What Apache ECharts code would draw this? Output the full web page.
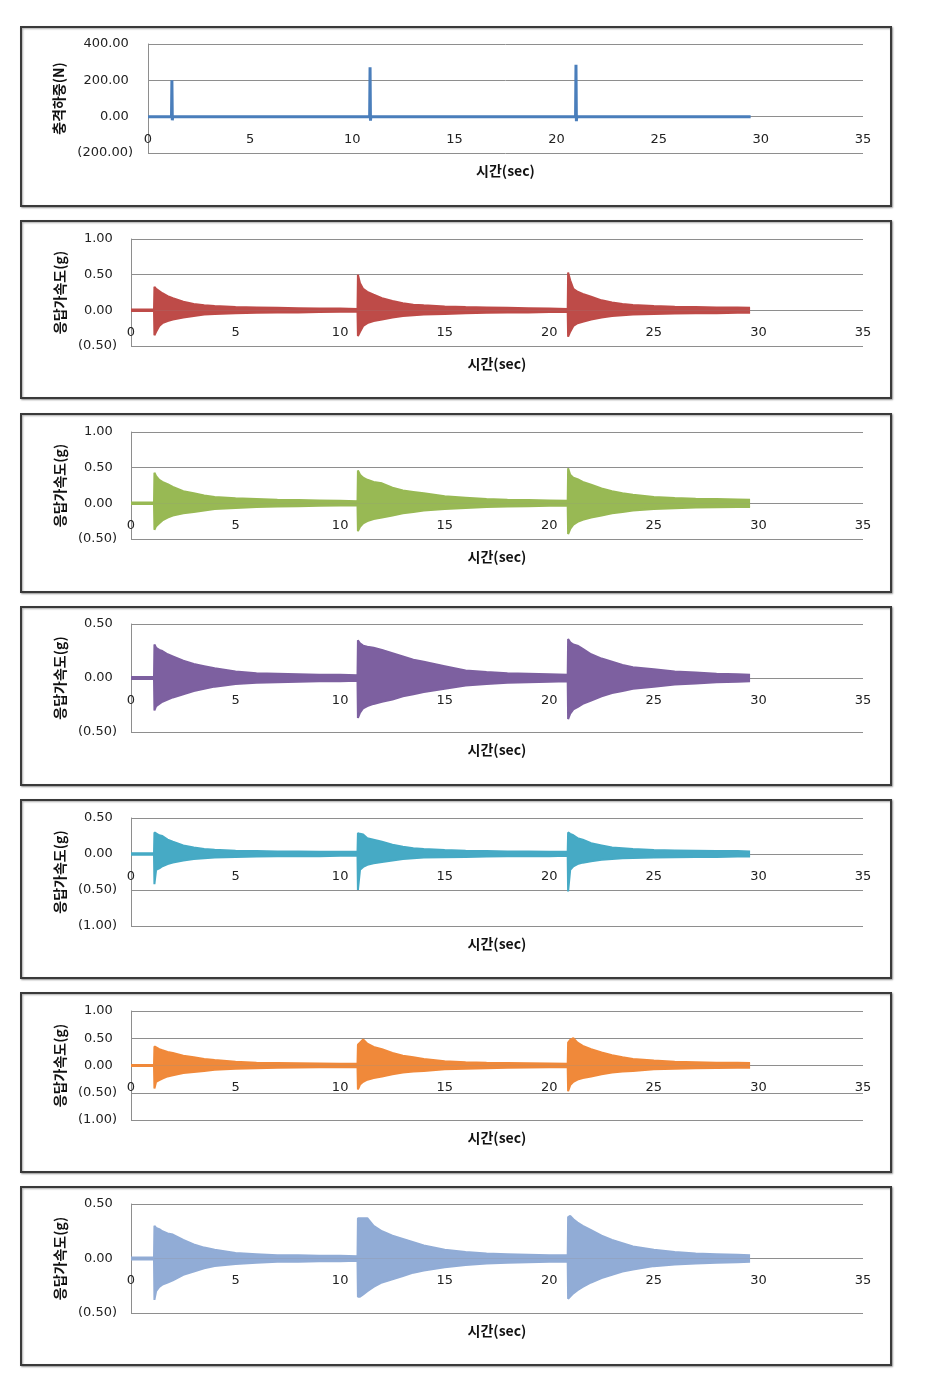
<!DOCTYPE html>
<html><head><meta charset="utf-8">
<script src="https://cdn.jsdelivr.net/npm/echarts@6/dist/echarts.min.js"></script>
<style>html,body{margin:0;padding:0;background:#fff}#c{width:929px;height:1374px}</style>
</head><body><div id="c"></div>
<script>
// ---------- DATA ----------
const xTicks = [0, 5, 10, 15, 20, 25, 30, 35];
const yTitleForce = '충격하중(N)';
const yTitleAcc = '응답가속도(g)';
const xTitle = '시간(sec)';

// impact load (N)
const forceTime  = [0, 1.15, 1.17, 1.19, 1.21, 10.85, 10.87, 10.89, 10.91, 20.93, 20.95, 20.97, 20.99, 29.5];
const forceValue = [0, 0,    200,  -20,  0,    0,     272,   -22,   0,     0,     286,   -25,   0,     0];

// envelope sample times (sec) for the response accelerations
const envTime = [0, 1.1, 1.12, 1.2, 1.35, 1.5, 1.75, 2, 2.5, 3, 3.5, 4, 5, 6, 7, 8, 9, 10,
  10.83, 10.85, 10.95, 11.1, 11.3, 11.6, 12, 12.5, 13, 13.5, 14, 15, 16, 17, 18, 19, 20,
  20.88, 20.9, 21.0, 21.15, 21.35, 21.6, 22, 22.5, 23, 23.5, 24, 25, 26, 27, 28, 29, 29.6];

const redUpper = [0.01,0.01,0.33,0.30,0.27,0.24,0.20,0.17,0.12,0.09,0.07,0.06,0.045,0.04,0.035,0.03,0.025,0.025,
  0.02,0.50,0.38,0.30,0.26,0.22,0.17,0.13,0.10,0.08,0.07,0.055,0.045,0.04,0.035,0.03,0.025,
  0.02,0.53,0.42,0.30,0.26,0.23,0.19,0.14,0.11,0.09,0.075,0.06,0.05,0.045,0.04,0.04,0.035];
const redLower = [-0.01,-0.01,-0.35,-0.30,-0.22,-0.18,-0.15,-0.13,-0.10,-0.08,-0.06,-0.05,-0.04,-0.035,-0.03,-0.03,-0.025,-0.02,
  -0.02,-0.36,-0.30,-0.22,-0.18,-0.15,-0.13,-0.10,-0.08,-0.07,-0.06,-0.05,-0.04,-0.035,-0.03,-0.03,-0.025,
  -0.02,-0.37,-0.30,-0.22,-0.18,-0.16,-0.13,-0.10,-0.08,-0.07,-0.06,-0.05,-0.045,-0.04,-0.04,-0.035,-0.035];

const greenUpper = [0.01,0.01,0.43,0.38,0.33,0.30,0.27,0.23,0.17,0.14,0.11,0.09,0.07,0.06,0.05,0.045,0.04,0.035,
  0.03,0.46,0.40,0.36,0.33,0.30,0.28,0.22,0.18,0.16,0.14,0.10,0.08,0.06,0.05,0.045,0.04,
  0.035,0.49,0.40,0.36,0.34,0.30,0.26,0.21,0.17,0.14,0.12,0.09,0.075,0.065,0.06,0.055,0.05];
const greenLower = [-0.01,-0.01,-0.37,-0.32,-0.28,-0.24,-0.20,-0.17,-0.14,-0.12,-0.10,-0.08,-0.065,-0.05,-0.045,-0.04,-0.035,-0.03,
  -0.03,-0.39,-0.33,-0.28,-0.25,-0.22,-0.20,-0.17,-0.14,-0.12,-0.10,-0.08,-0.065,-0.05,-0.045,-0.04,-0.035,
  -0.03,-0.43,-0.36,-0.30,-0.26,-0.23,-0.20,-0.17,-0.14,-0.12,-0.10,-0.08,-0.07,-0.06,-0.055,-0.05,-0.05];

const purpleUpper = [0.01,0.01,0.31,0.28,0.26,0.25,0.22,0.20,0.16,0.13,0.11,0.09,0.06,0.045,0.04,0.035,0.03,0.03,
  0.025,0.35,0.32,0.30,0.29,0.28,0.26,0.23,0.20,0.17,0.15,0.11,0.07,0.055,0.045,0.04,0.035,
  0.03,0.36,0.33,0.31,0.30,0.27,0.22,0.18,0.15,0.12,0.10,0.08,0.06,0.05,0.04,0.035,0.03];
const purpleLower = [-0.01,-0.01,-0.30,-0.26,-0.24,-0.22,-0.20,-0.18,-0.15,-0.12,-0.10,-0.08,-0.055,-0.045,-0.04,-0.035,-0.03,-0.03,
  -0.025,-0.37,-0.32,-0.28,-0.26,-0.24,-0.22,-0.20,-0.17,-0.15,-0.13,-0.10,-0.07,-0.055,-0.045,-0.04,-0.035,
  -0.03,-0.38,-0.33,-0.29,-0.27,-0.24,-0.21,-0.17,-0.14,-0.12,-0.10,-0.08,-0.06,-0.05,-0.04,-0.035,-0.03];

const aquaUpper = [0.01,0.01,0.30,0.28,0.26,0.25,0.20,0.17,0.12,0.09,0.07,0.06,0.045,0.04,0.035,0.035,0.03,0.03,
  0.03,0.29,0.28,0.27,0.22,0.20,0.17,0.13,0.10,0.08,0.07,0.055,0.045,0.04,0.035,0.035,0.03,
  0.03,0.30,0.28,0.26,0.22,0.20,0.15,0.12,0.09,0.08,0.07,0.055,0.05,0.045,0.04,0.04,0.035];
const aquaLower = [-0.01,-0.01,-0.42,-0.22,-0.20,-0.17,-0.14,-0.12,-0.09,-0.07,-0.06,-0.05,-0.04,-0.035,-0.03,-0.03,-0.03,-0.025,
  -0.025,-0.50,-0.22,-0.18,-0.15,-0.13,-0.11,-0.09,-0.07,-0.06,-0.05,-0.045,-0.04,-0.035,-0.03,-0.03,-0.03,
  -0.025,-0.52,-0.22,-0.17,-0.14,-0.12,-0.10,-0.08,-0.07,-0.06,-0.055,-0.05,-0.045,-0.04,-0.04,-0.035,-0.035];

const orangeUpper = [0.01,0.01,0.35,0.32,0.30,0.28,0.25,0.23,0.18,0.15,0.12,0.10,0.07,0.05,0.045,0.04,0.035,0.03,
  0.03,0.38,0.42,0.48,0.40,0.34,0.30,0.23,0.18,0.15,0.12,0.08,0.06,0.05,0.045,0.04,0.035,
  0.03,0.42,0.47,0.50,0.42,0.36,0.30,0.24,0.19,0.15,0.12,0.09,0.07,0.06,0.05,0.05,0.045];
const orangeLower = [-0.01,-0.01,-0.42,-0.30,-0.27,-0.24,-0.20,-0.18,-0.14,-0.12,-0.10,-0.08,-0.06,-0.05,-0.04,-0.035,-0.03,-0.03,
  -0.03,-0.44,-0.35,-0.30,-0.26,-0.23,-0.20,-0.16,-0.13,-0.11,-0.10,-0.07,-0.06,-0.05,-0.04,-0.035,-0.03,
  -0.03,-0.47,-0.36,-0.30,-0.26,-0.23,-0.20,-0.16,-0.13,-0.11,-0.10,-0.07,-0.06,-0.05,-0.045,-0.04,-0.04];

const lightBlueUpper = [0.01,0.01,0.30,0.28,0.27,0.25,0.23,0.22,0.17,0.13,0.10,0.08,0.05,0.04,0.03,0.03,0.025,0.025,
  0.02,0.37,0.37,0.37,0.37,0.30,0.25,0.21,0.18,0.15,0.12,0.08,0.06,0.045,0.04,0.035,0.03,
  0.03,0.38,0.39,0.36,0.33,0.30,0.26,0.21,0.17,0.14,0.11,0.08,0.06,0.045,0.04,0.035,0.03];
const lightBlueLower = [-0.01,-0.01,-0.38,-0.30,-0.26,-0.24,-0.22,-0.20,-0.15,-0.12,-0.09,-0.07,-0.05,-0.04,-0.03,-0.03,-0.025,-0.025,
  -0.02,-0.35,-0.35,-0.33,-0.30,-0.26,-0.22,-0.19,-0.16,-0.13,-0.11,-0.08,-0.06,-0.045,-0.04,-0.035,-0.03,
  -0.03,-0.37,-0.35,-0.32,-0.29,-0.26,-0.22,-0.18,-0.15,-0.12,-0.10,-0.07,-0.055,-0.045,-0.04,-0.035,-0.03];

// ---------- LAYOUT / STYLE ----------
const panels = [
  {frame:[21,27,870,179],  left:148, top:44,   height:109, min:-200, max:400, step:200, title:yTitleForce, color:'#4A7EBB', kind:'force', nameGap:82},
  {frame:[21,221,870,177], left:131, top:239,  height:107, min:-0.5, max:1.0, step:0.5, title:yTitleAcc, color:'#BE4B48', up:redUpper, lo:redLower, nameGap:63},
  {frame:[21,414,870,178], left:131, top:432,  height:107, min:-0.5, max:1.0, step:0.5, title:yTitleAcc, color:'#98B954', up:greenUpper, lo:greenLower, nameGap:63},
  {frame:[21,607,870,178], left:131, top:624,  height:108, min:-0.5, max:0.5, step:0.5, title:yTitleAcc, color:'#7D60A0', up:purpleUpper, lo:purpleLower, nameGap:63},
  {frame:[21,800,870,178], left:131, top:818,  height:108, min:-1.0, max:0.5, step:0.5, title:yTitleAcc, color:'#46AAC5', up:aquaUpper, lo:aquaLower, nameGap:63},
  {frame:[21,993,870,179], left:131, top:1011, height:109, min:-1.0, max:1.0, step:0.5, title:yTitleAcc, color:'#F0893A', up:orangeUpper, lo:orangeLower, nameGap:63},
  {frame:[21,1187,870,178],left:131, top:1204, height:109, min:-0.5, max:0.5, step:0.5, title:yTitleAcc, color:'#91ACD6', up:lightBlueUpper, lo:lightBlueLower, nameGap:63}
];
const RIGHT = 929 - 863;
const gridColor = '#8E8E8E';
const labelFont = "'DejaVu Sans', sans-serif";
const titleFont = "'Noto Sans CJK KR', sans-serif";

function fmt(v) {
  const s = Math.abs(v).toFixed(2);
  return v < 0 ? '(' + s + ')' : s + '\u00a0';
}

const grids = [], xAxes = [], yAxes = [], series = [], graphics = [];
panels.forEach((p, i) => {
  graphics.push({type:'rect', z:-1, shape:{x:p.frame[0], y:p.frame[1], width:p.frame[2], height:p.frame[3]},
    style:{fill:'#fff', stroke:'#3a3a3a', lineWidth:2, shadowColor:'rgba(0,0,0,0.35)', shadowBlur:2, shadowOffsetX:1, shadowOffsetY:1}});
  grids.push({left:p.left, right:RIGHT, top:p.top, height:p.height, containLabel:false});
  // distance (px) from the zero line to the bottom of the plot: the tick labels sit just under the zero line
  const zeroToBottom = p.height * (0 - p.min) / (p.max - p.min);
  xAxes.push({type:'value', gridIndex:i, min:xTicks[0], max:xTicks[xTicks.length-1], interval:xTicks[1]-xTicks[0],
    name:xTitle, nameLocation:'middle', nameGap:11,
    nameTextStyle:{fontFamily:titleFont, fontWeight:'bold', fontSize:14, color:'#111'},
    axisLine:{show:false, onZero:false},
    axisTick:{show:false}, splitLine:{show:false},
    axisLabel:{margin:16 - zeroToBottom, fontFamily:labelFont, fontSize:13, color:'#222'}});
  yAxes.push({type:'value', gridIndex:i, min:p.min, max:p.max, interval:p.step,
    name:p.title, nameLocation:'middle', nameRotate:90, nameGap:p.nameGap,
    nameTextStyle:{fontFamily:titleFont, fontWeight:'bold', fontSize:14, color:'#111'},
    axisLine:{show:true, onZero:false, lineStyle:{color:gridColor, width:1}},
    axisTick:{show:false},
    splitLine:{show:true, lineStyle:{color:gridColor, width:1}},
    axisLabel:{margin:p.kind === 'force' ? 15 : 14, fontFamily:labelFont, fontSize:13, color:'#222', formatter:fmt}});
  if (p.kind === 'force') {
    series.push({type:'line', xAxisIndex:i, yAxisIndex:i, showSymbol:false, silent:true,
      data: forceTime.map((t, k) => [t, forceValue[k]]),
      lineStyle:{color:p.color, width:3}});
  } else {
    [p.up, p.lo].forEach(arr => {
      series.push({type:'line', xAxisIndex:i, yAxisIndex:i, showSymbol:false, silent:true,
        data: envTime.map((t, k) => [t, arr[k]]),
        lineStyle:{color:p.color, width:2},
        areaStyle:{color:p.color, opacity:1, origin:0}});
    });
  }
});

const chart = echarts.init(document.getElementById('c'), null, {renderer:'canvas'});
chart.setOption({
  animation:false,
  backgroundColor:'#fff',
  graphic:graphics,
  grid:grids, xAxis:xAxes, yAxis:yAxes, series:series
});
</script></body></html>
